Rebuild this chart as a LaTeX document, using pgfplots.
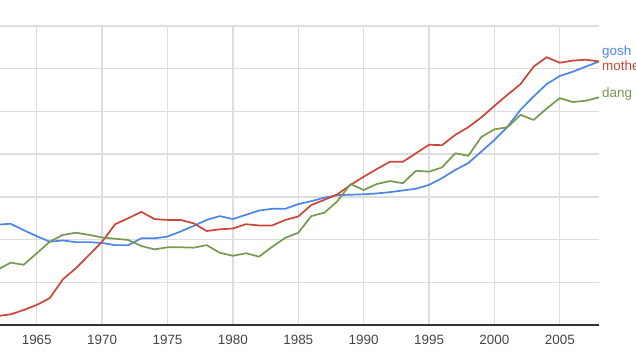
\documentclass[border=0pt]{standalone}
\usepackage{pgfplots}
\pgfplotsset{compat=1.18}
\usepackage{fontspec}
\setmainfont{Liberation Sans}
\definecolor{gblue}{HTML}{4A86E8}
\definecolor{gred}{HTML}{CC4637}
\definecolor{ggreen}{HTML}{769A4F}
\definecolor{ggrid}{HTML}{DDDDDD}
\definecolor{gtick}{HTML}{444444}
\begin{document}
\begin{tikzpicture}[x=1bp,y=1bp]
\useasboundingbox (0,-33) rectangle (636,325);
\begin{axis}[
  at={(0,0)}, anchor=south west,
  scale only axis, width=599bp, height=299bp,
  xmin=1962.19, xmax=2008, ymin=0, ymax=7,
  axis x line*=bottom, axis y line*=left,
  x axis line style={draw=black!80, line width=1.3bp, -},
  y axis line style={draw=none},
  xtick={1965,1970,...,2005}, ytick={1,2,...,7}, yticklabels={},
  major tick length=0pt,
  xmajorgrids, ymajorgrids,
  grid style={ggrid, line width=1.4bp},
  /pgf/number format/assume math mode=true,
  /pgf/number format/1000 sep={},
  xticklabel style={font=\fontsize{13.5}{15}\selectfont, text=gtick, yshift=-7bp},
  clip mode=individual,
  every axis plot/.append style={line width=1.7bp, line join=round, no marks},
]
\addplot[gblue] coordinates {
(1962,2.35)(1963,2.37)(1964,2.22)(1965,2.08)(1966,1.95)(1967,1.98)(1968,1.94)(1969,1.94)(1970,1.92)
(1971,1.87)(1972,1.87)(1973,2.03)(1974,2.03)(1975,2.07)(1976,2.19)(1977,2.32)(1978,2.46)(1979,2.55)
(1980,2.48)(1981,2.58)(1982,2.68)(1983,2.72)(1984,2.72)(1985,2.83)(1986,2.90)(1987,2.98)(1988,3.04)
(1989,3.05)(1990,3.06)(1991,3.08)(1992,3.11)(1993,3.15)(1994,3.19)(1995,3.28)(1996,3.44)(1997,3.63)
(1998,3.79)(1999,4.06)(2000,4.33)(2001,4.64)(2002,5.04)(2003,5.35)(2004,5.64)(2005,5.83)(2006,5.93)
(2007,6.05)(2008,6.17)};
\addplot[gred] coordinates {
(1962,0.21)(1963,0.25)(1964,0.35)(1965,0.47)(1966,0.63)(1967,1.07)(1968,1.33)(1969,1.64)(1970,1.95)
(1971,2.36)(1972,2.50)(1973,2.65)(1974,2.48)(1975,2.46)(1976,2.46)(1977,2.38)(1978,2.20)(1979,2.24)
(1980,2.26)(1981,2.36)(1982,2.33)(1983,2.33)(1984,2.46)(1985,2.54)(1986,2.81)(1987,2.93)(1988,3.06)
(1989,3.28)(1990,3.47)(1991,3.65)(1992,3.82)(1993,3.82)(1994,4.02)(1995,4.22)(1996,4.21)(1997,4.45)
(1998,4.63)(1999,4.86)(2000,5.13)(2001,5.39)(2002,5.64)(2003,6.05)(2004,6.27)(2005,6.14)(2006,6.19)
(2007,6.21)(2008,6.17)};
\addplot[ggreen] coordinates {
(1962,1.29)(1963,1.46)(1964,1.41)(1965,1.68)(1966,1.95)(1967,2.11)(1968,2.16)(1969,2.11)(1970,2.05)
(1971,2.02)(1972,1.99)(1973,1.85)(1974,1.77)(1975,1.82)(1976,1.82)(1977,1.81)(1978,1.87)(1979,1.69)
(1980,1.62)(1981,1.68)(1982,1.60)(1983,1.83)(1984,2.04)(1985,2.16)(1986,2.55)(1987,2.63)(1988,2.90)
(1989,3.30)(1990,3.16)(1991,3.30)(1992,3.37)(1993,3.32)(1994,3.61)(1995,3.59)(1996,3.69)(1997,4.02)
(1998,3.96)(1999,4.40)(2000,4.58)(2001,4.63)(2002,4.92)(2003,4.80)(2004,5.07)(2005,5.31)(2006,5.22)
(2007,5.25)(2008,5.33)};
\node[anchor=west, inner sep=0pt, xshift=3bp, text=gblue, font=\fontsize{13.5}{15}\selectfont] at (axis cs:2008,6.40) {gosh};
\node[anchor=west, inner sep=0pt, xshift=3bp, text=gred, font=\fontsize{13.5}{15}\selectfont] at (axis cs:2008,6.07) {mother};
\node[anchor=west, inner sep=0pt, xshift=3bp, text=ggreen, font=\fontsize{13.5}{15}\selectfont] at (axis cs:2008,5.40) {dang};
\end{axis}
\end{tikzpicture}
\end{document}
